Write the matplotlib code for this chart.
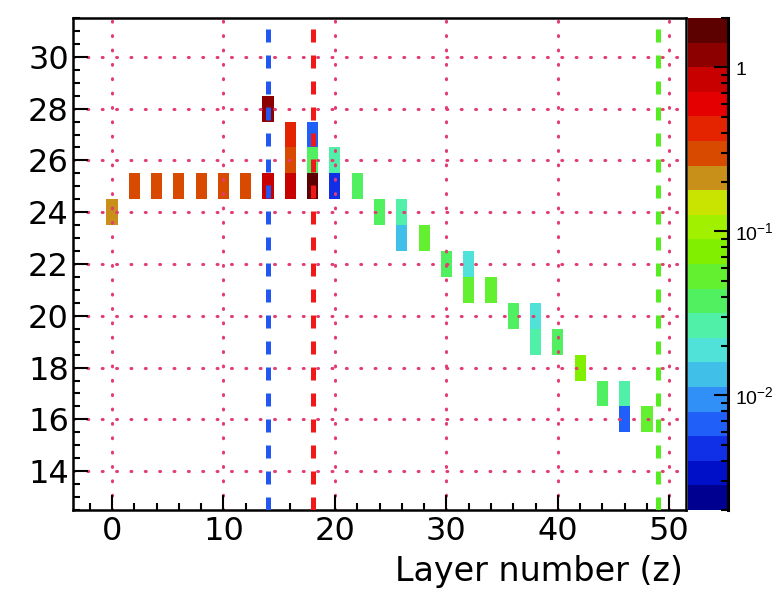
import numpy as np
import matplotlib
matplotlib.use('Agg')
import matplotlib.pyplot as plt
import matplotlib.ticker as ticker
from matplotlib.colors import ListedColormap, LogNorm

plt.rcParams['font.family'] = ['DejaVu Sans']
plt.rcParams['mathtext.fontset'] = 'custom'
plt.rcParams['mathtext.rm'] = 'Liberation Sans'
plt.rcParams['mathtext.it'] = 'Liberation Sans:italic'

# cells: layer (x), row (y), deposited fraction (z)
layers = [0, 2, 4, 6, 8, 10, 12,
          14, 14,
          16, 16, 16,
          18, 18, 18,
          20, 20,
          22, 24, 26, 26, 28, 30, 32, 32, 34, 36, 38, 38, 40, 42, 44, 46, 46, 48]
rows = [24, 25, 25, 25, 25, 25, 25,
        28, 25,
        27, 26, 25,
        27, 26, 25,
        26, 25,
        25, 24, 24, 23, 23, 22, 22, 21, 21, 20, 20, 19, 19, 18, 17, 17, 16, 16]
values = [0.21, 0.30, 0.30, 0.30, 0.30, 0.30, 0.30,
          1.19, 0.84,
          0.42, 0.30, 0.84,
          0.0067, 0.038, 1.68,
          0.027, 0.0047,
          0.038, 0.038, 0.027, 0.013, 0.053, 0.038, 0.019, 0.053, 0.053,
          0.038, 0.019, 0.027, 0.038, 0.075, 0.038, 0.027, 0.0067, 0.053]

# vertical marker lines
line_x = [14, 18, 49]
line_colors = ['#2257f2', '#f01818', '#55ec22']

palette = ['#5c0000', '#8c0000', '#c80000', '#e40000', '#e42400', '#d84a00',
           '#c89018', '#c8e400', '#a0f000', '#80f000', '#62f030', '#50f060',
           '#50f0a8', '#50e2d8', '#40c0e8', '#3090f8', '#2060f8', '#1030e8',
           '#0010c8', '#000090'][::-1]
cmap = ListedColormap(palette)
norm = LogNorm(vmin=0.002, vmax=2.0)

# 2D histogram
x_edges = np.arange(-0.5, 51.5, 1.0)
y_edges = np.arange(12.5, 32.5, 1.0)
H = np.full((len(y_edges) - 1, len(x_edges) - 1), np.nan)
for lx, ry, v in zip(layers, rows, values):
    H[int(ry - 12.5), int(lx + 0.5)] = v
H = np.ma.masked_invalid(H)

fig = plt.figure(figsize=(7.74, 5.95), dpi=100)
ax = fig.add_axes([73 / 774, 85 / 595, 613 / 774, 492 / 595])
cax = fig.add_axes([688 / 774, 85 / 595, 40 / 774, 492 / 595])

mesh = ax.pcolormesh(x_edges, y_edges, H, cmap=cmap, norm=norm, zorder=1)

ax.grid(True, which='major', color='#e43c72', linestyle=(0, (0.3, 4.4)),
        linewidth=2.2, dash_capstyle='round')
for xv, c in zip(line_x, line_colors):
    ax.axvline(xv, color=c, linewidth=3.6, linestyle=(0, (2.6, 2.6)), zorder=3)

ax.set_xlim(-3.5, 51.5)
ax.set_ylim(12.5, 31.5)
ax.xaxis.set_major_locator(ticker.MultipleLocator(10))
ax.xaxis.set_minor_locator(ticker.MultipleLocator(2))
ax.yaxis.set_major_locator(ticker.FixedLocator(np.arange(14, 31, 2)))
ax.yaxis.set_minor_locator(ticker.MultipleLocator(0.5))
ax.tick_params(which='both', direction='in', top=False, right=False, width=1.5,
               labelsize=23)
ax.tick_params(which='major', length=11)
ax.tick_params(which='minor', length=5)
ax.tick_params(axis='x', pad=4)
ax.tick_params(axis='y', pad=3)
for s in ax.spines.values():
    s.set_linewidth(1.8)

fig.text(683 / 774, 1 - 571 / 595, 'Layer number (z)', ha='right', va='center',
         fontsize=24)

# colour scale
cb = fig.colorbar(mesh, cax=cax)
cb.outline.set_visible(False)
cax.plot([1, 1], [0, 1], transform=cax.transAxes, color='black', lw=2.2,
         clip_on=False)
cax.yaxis.set_major_locator(ticker.FixedLocator([0.01, 0.1, 1.0]))
cax.yaxis.set_major_formatter(ticker.FixedFormatter(['$10^{-2}$', '$10^{-1}$', '$1$']))
cax.yaxis.set_minor_locator(ticker.LogLocator(base=10, subs=np.arange(2, 10)))
cax.yaxis.set_minor_formatter(ticker.NullFormatter())
cax.tick_params(which='both', direction='in', right=True, left=False,
                width=1.5, labelsize=14, pad=5)
cax.tick_params(which='major', length=10)
cax.tick_params(which='minor', length=5)

plt.savefig('out.png', dpi=100)
